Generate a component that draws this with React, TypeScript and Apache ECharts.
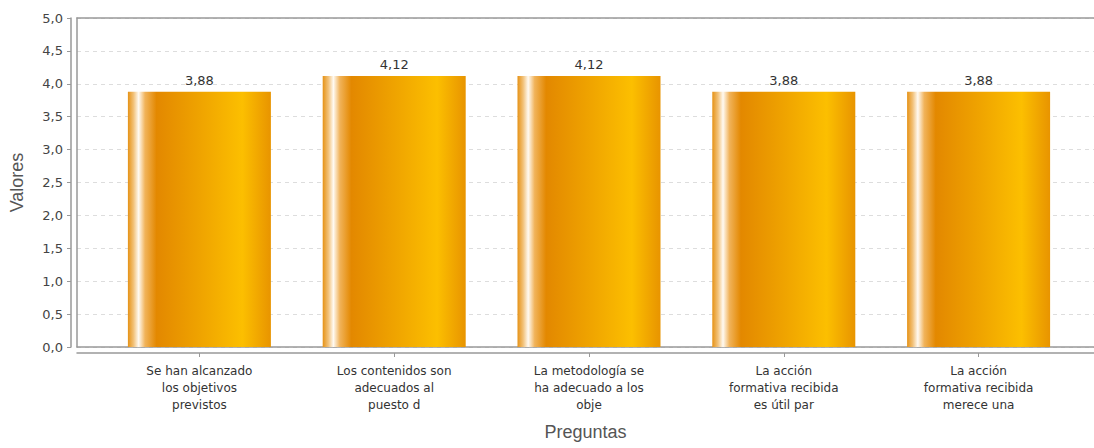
import React, { useEffect, useRef } from "react";
import * as echarts from "echarts";

const categories = [
  "Se han alcanzado\nlos objetivos\nprevistos",
  "Los contenidos son\nadecuados al\npuesto d",
  "La metodología se\nha adecuado a los\nobje",
  "La acción\nformativa recibida\nes útil par",
  "La acción\nformativa recibida\nmerece una",
];
const values = [3.88, 4.12, 4.12, 3.88, 3.88];
const yMin = 0;
const yMax = 5;
const yStep = 0.5;
const xTitle = "Preguntas";
const yTitle = "Valores";

const fmt = (v: number, d: number) => v.toFixed(d).replace(".", ",");

export default function App() {
  const ref = useRef<HTMLDivElement>(null);
  useEffect(() => {
    if (!ref.current) return;
    const chart = echarts.init(ref.current, undefined, { renderer: "svg" });
    const frame = { left: 77, top: 18, width: 1017, height: 329 };
    const borderLine = { show: true, onZero: false, lineStyle: { color: "#999", width: 1.5 } };
    const barGradient = new echarts.graphic.LinearGradient(0, 0, 1, 0, [
      { offset: 0, color: "#e69215" },
      { offset: 0.04, color: "#f2c27a" },
      { offset: 0.075, color: "#fffaf2" },
      { offset: 0.12, color: "#f1b35a" },
      { offset: 0.2, color: "#e38800" },
      { offset: 0.5, color: "#efa300" },
      { offset: 0.8, color: "#fcbf00" },
      { offset: 1, color: "#e89400" },
    ]);
    chart.setOption({
      animation: false,
      textStyle: { fontFamily: "DejaVu Sans" },
      grid: [
        { ...frame },
        { ...frame },
        { left: 102, top: 18, width: 974, height: 329 },
      ],
      xAxis: [
        {
          gridIndex: 0,
          type: "category",
          data: categories,
          position: "bottom",
          axisLine: borderLine,
          axisTick: { show: false },
          axisLabel: { show: false },
          splitLine: { show: false },
        },
        {
          gridIndex: 0,
          type: "category",
          data: categories,
          position: "top",
          axisLine: borderLine,
          axisTick: { show: false },
          axisLabel: { show: false },
          splitLine: { show: false },
        },
        {
          gridIndex: 1,
          type: "category",
          data: categories,
          position: "bottom",
          offset: 6,
          axisLine: borderLine,
          axisTick: { show: false },
          axisLabel: { show: false },
          splitLine: { show: false },
          name: xTitle,
          nameLocation: "middle",
          nameGap: 70,
          nameTextStyle: { fontFamily: "Liberation Sans", fontSize: 18, color: "#555" },
        },
        {
          gridIndex: 2,
          type: "category",
          data: categories,
          position: "bottom",
          offset: 6,
          axisLine: { show: false, onZero: false },
          axisTick: { show: true, alignWithLabel: true, length: 4, lineStyle: { color: "#999" } },
          axisLabel: {
            margin: 9,
            fontFamily: "DejaVu Sans",
            fontSize: 12,
            lineHeight: 17,
            color: "#333",
            interval: 0,
          },
        },
      ],
      yAxis: [
        {
          gridIndex: 0,
          type: "value",
          min: yMin,
          max: yMax,
          interval: yStep,
          axisLine: borderLine,
          axisTick: { show: false },
          axisLabel: { show: false },
          splitLine: { show: true, lineStyle: { color: "#ddd", type: [4, 4], width: 1 } },
        },
        {
          gridIndex: 1,
          type: "value",
          min: yMin,
          max: yMax,
          interval: yStep,
          offset: 6,
          axisLine: borderLine,
          axisTick: { show: true, length: 4, lineStyle: { color: "#999" } },
          axisLabel: {
            margin: 8,
            fontFamily: "DejaVu Sans",
            fontSize: 13,
            color: "#444",
            formatter: (v: number) => fmt(v, 1),
          },
          splitLine: { show: false },
          name: yTitle,
          nameLocation: "middle",
          nameRotate: 90,
          nameGap: 45,
          nameTextStyle: { fontFamily: "Liberation Sans", fontSize: 18, color: "#555" },
        },
        {
          gridIndex: 2,
          type: "value",
          min: yMin,
          max: yMax,
          interval: yStep,
          show: false,
        },
      ],
      series: [
        {
          type: "bar",
          xAxisIndex: 3,
          yAxisIndex: 2,
          data: values,
          barWidth: 143,
          itemStyle: { color: barGradient },
          label: {
            show: true,
            position: "top",
            distance: 5,
            fontFamily: "DejaVu Sans",
            fontSize: 13,
            color: "#333",
            formatter: (p: any) => fmt(p.value, 2),
          },
        },
      ],
    });
    return () => chart.dispose();
  }, []);
  return (
    <div
      ref={ref}
      style={{ position: "fixed", left: 0, top: 0, width: 1094, height: 448, background: "#fff" }}
    />
  );
}
